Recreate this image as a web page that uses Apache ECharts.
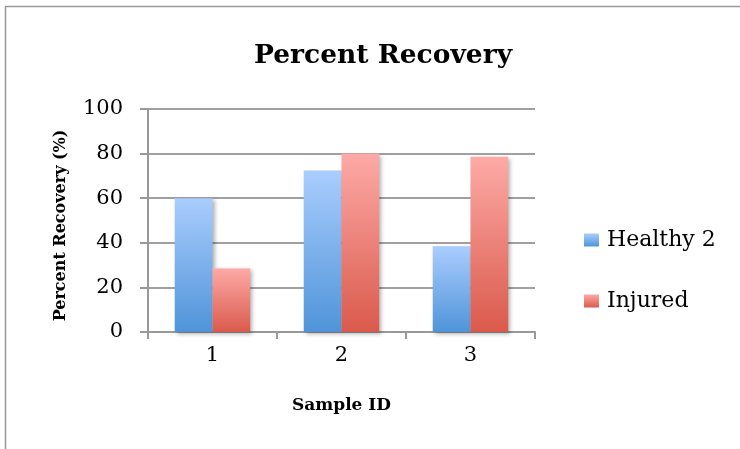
<!DOCTYPE html>
<html>
<head>
<meta charset="utf-8">
<script src="https://cdn.jsdelivr.net/npm/echarts@6/dist/echarts.min.js"></script>
<style>
  html, body { margin: 0; padding: 0; background: #fff; }
  #chart { width: 740px; height: 449px; }
</style>
</head>
<body>
<div id="chart"></div>
<script>
// Sample IDs on the category axis
const categories = ['1', '2', '3'];
// Percent recovery per sample
const healthy2 = [60.0, 72.4, 38.5];
const injured = [28.5, 80.0, 78.6];
const seriesNames = ['Healthy 2', 'Injured'];

const FONT = '"DejaVu Serif", "Liberation Serif", serif';

function vGrad(top, bottom) {
  return new echarts.graphic.LinearGradient(0, 0, 0, 1, [
    { offset: 0, color: top },
    { offset: 1, color: bottom }
  ]);
}

const chart = echarts.init(document.getElementById('chart'));
const barShadow = {
  shadowBlur: 4,
  shadowColor: 'rgba(0,0,0,0.3)',
  shadowOffsetX: 2,
  shadowOffsetY: 2
};

chart.setOption({
  animation: false,
  backgroundColor: '#ffffff',
  graphic: [{
    type: 'rect',
    shape: { x: 5.5, y: 6.5, width: 900, height: 600 },
    style: { fill: 'none', stroke: '#999999', lineWidth: 1.5 },
    silent: true
  }],
  title: {
    text: 'Percent Recovery',
    left: 378,
    textAlign: 'center',
    top: 38,
    textStyle: { fontFamily: FONT, fontWeight: 'bold', fontSize: 26.5, color: '#000' }
  },
  legend: {
    orient: 'vertical',
    left: 584,
    top: 229,
    padding: 0,
    icon: 'rect',
    itemWidth: 15,
    itemHeight: 13,
    itemGap: 39,
    data: seriesNames,
    textStyle: { fontFamily: FONT, fontSize: 22, color: '#000', padding: [0, 0, 0, 3] }
  },
  grid: { left: 148, right: 205, top: 109, bottom: 117 },
  xAxis: {
    type: 'category',
    data: categories,
    name: 'Sample ID',
    nameLocation: 'middle',
    nameGap: 65,
    nameTextStyle: { fontFamily: FONT, fontWeight: 'bold', fontSize: 17, color: '#000' },
    axisLine: { lineStyle: { color: '#999999', width: 2 } },
    axisTick: { show: true, length: 7, lineStyle: { color: '#999999', width: 2 } },
    axisLabel: { fontFamily: FONT, fontSize: 21, color: '#000', margin: 13 }
  },
  yAxis: {
    type: 'value',
    min: 0,
    max: 100,
    interval: 20,
    name: 'Percent Recovery (%)',
    nameLocation: 'middle',
    nameGap: 79,
    nameRotate: 90,
    nameTextStyle: { fontFamily: FONT, fontWeight: 'bold', fontSize: 16, color: '#000', padding: [0, 10, 0, 0] },
    axisLine: { show: true, lineStyle: { color: '#999999', width: 2 } },
    axisTick: { show: true, length: 8, lineStyle: { color: '#999999', width: 2 } },
    axisLabel: { fontFamily: FONT, fontSize: 21, color: '#000', margin: 25 },
    splitLine: { lineStyle: { color: '#a0a0a0', width: 2 } }
  },
  series: [
    {
      name: seriesNames[0],
      type: 'bar',
      data: healthy2,
      barGap: '0%',
      barCategoryGap: '41.5%',
      itemStyle: Object.assign({ color: vGrad('#aacdfe', '#4f94d9') }, barShadow)
    },
    {
      name: seriesNames[1],
      type: 'bar',
      data: injured,
      barGap: '0%',
      barCategoryGap: '41.5%',
      itemStyle: Object.assign({ color: vGrad('#fdaaa6', '#da5a4c') }, barShadow)
    }
  ]
});
</script>
</body>
</html>
